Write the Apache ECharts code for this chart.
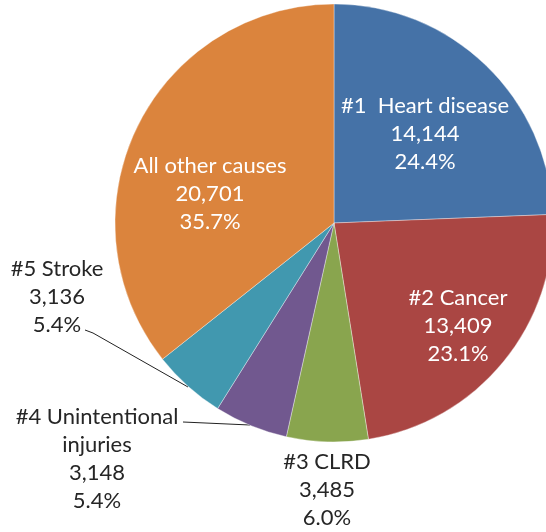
<!DOCTYPE html>
<html>
<head>
<meta charset="utf-8">
<script src="https://cdn.jsdelivr.net/npm/echarts@6/dist/echarts.min.js"></script>
<style>
  html, body { margin: 0; padding: 0; background: #fff; }
  #main { width: 546px; height: 532px; }
</style>
</head>
<body>
<div id="main"></div>
<script>
const myChart = echarts.init(document.getElementById('main'));

// data
const causes = ['#1  Heart disease', '#2 Cancer', '#3 CLRD', '#4 Unintentional injuries', '#5 Stroke', 'All other causes'];
const labelNames = ['#1  Heart disease', '#2 Cancer', '#3 CLRD', '#4 Unintentional\ninjuries', '#5 Stroke', 'All other causes'];
const deaths = [14144, 13409, 3485, 3148, 3136, 20701];
const colors = ['#4572A7', '#AA4643', '#89A54E', '#71588F', '#4198AF', '#DB843D'];

// label anchor spots (text block centres) and leader lines
const labelSpots = [[425, 134], [458, 326], [327, 490], [97, 459], [57, 297], [210, 194]];
const leaderLines = {
    3: [[183, 422], [250, 425]],
    4: [[85, 330], [93, 333], [188, 387]]
};
const insideIdx = [0, 1, 5];

const total = deaths.reduce((a, b) => a + b, 0);

option = {
    animation: false,
    series: [
        {
            type: 'pie',
            center: [334, 223],
            radius: 219,
            startAngle: 90,
            clockwise: true,
            avoidLabelOverlap: false,
            itemStyle: {
                borderColor: 'rgba(255,255,255,0.6)',
                borderWidth: 0.6
            },
            label: {
                show: true,
                fontFamily: 'Lato',
                fontSize: 22,
                lineHeight: 28,
                align: 'center',
                overflow: 'none',
                formatter: function (p) {
                    const pct = (p.value / total * 100).toFixed(1) + '%';
                    return labelNames[p.dataIndex] + '\n' + p.value.toLocaleString('en-US') + '\n' + pct;
                }
            },
            labelLine: {
                show: false
            },
            labelLayout: function (params) {
                const i = params.dataIndex;
                const out = {
                    x: labelSpots[i][0],
                    y: labelSpots[i][1],
                    align: 'center',
                    verticalAlign: 'middle'
                };
                if (leaderLines[i]) out.labelLinePoints = leaderLines[i];
                return out;
            },
            data: deaths.map(function (v, i) {
                const inside = insideIdx.indexOf(i) >= 0;
                const item = {
                    name: causes[i],
                    value: v,
                    itemStyle: { color: colors[i] },
                    label: {
                        position: inside ? 'inside' : 'outside',
                        color: inside ? '#ffffff' : '#262626'
                    }
                };
                if (leaderLines[i]) {
                    item.labelLine = { show: true, lineStyle: { color: '#222', width: 1 } };
                }
                return item;
            })
        }
    ]
};

myChart.setOption(option);
</script>
</body>
</html>
